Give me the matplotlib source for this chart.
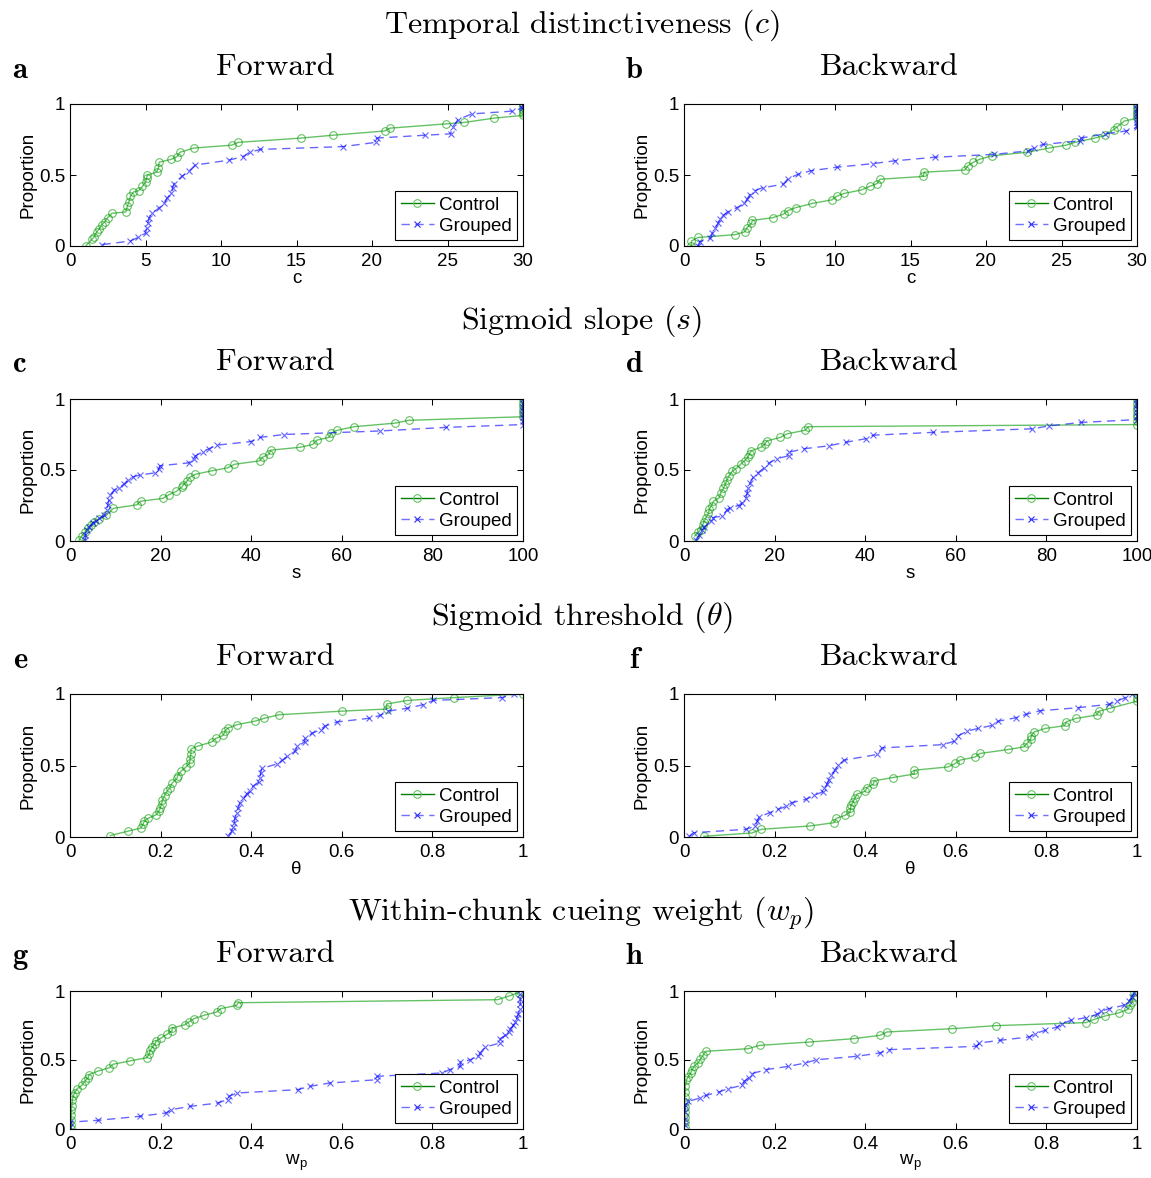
import numpy as np
import matplotlib
matplotlib.use("Agg")
import matplotlib.pyplot as plt
from matplotlib.lines import Line2D

plt.rcParams['font.family'] = ['Liberation Sans', 'DejaVu Sans']
plt.rcParams['mathtext.fontset'] = 'cm'
plt.rcParams['axes.formatter.use_mathtext'] = True

# --- data (sorted parameter values vs proportion) ---
# a: temporal distinctiveness, forward
a_ctrl_x = [1.04, 1.48, 1.6, 1.77, 1.93, 2.1, 2.3, 2.5, 2.77, 3.7, 3.8, 3.9, 4.0, 4.2, 4.55, 4.8, 5.0,
            5.07, 5.13, 5.73, 5.86, 5.9, 6.7, 7.1, 7.28, 8.2, 10.7, 11.15, 15.3, 17.4, 20.85, 21.2,
            24.9, 26.1, 28.05, 30, 30, 30, 30, 30]
a_ctrl_y = [0.0, 0.05, 0.065, 0.1, 0.12, 0.15, 0.17, 0.2, 0.23, 0.24, 0.28, 0.31, 0.35, 0.38, 0.39,
            0.42, 0.45, 0.48, 0.5, 0.52, 0.55, 0.59, 0.61, 0.63, 0.66, 0.69, 0.71, 0.73, 0.76, 0.78,
            0.81, 0.83, 0.86, 0.87, 0.9, 0.92, 0.94, 0.96, 0.98, 1.0]
a_grp_x = [2.15, 4.0, 4.5, 5.0, 5.07, 5.15, 5.25, 5.4, 5.87, 6.25, 6.4, 6.7, 6.8, 6.9, 7.4, 7.9, 8.3,
           10.55, 11.45, 11.9, 12.6, 18.1, 20.25, 20.3, 23.5, 25.2, 25.35, 25.7, 26.6, 29.3, 29.95, 30]
a_grp_y = [0.01, 0.035, 0.06, 0.09, 0.125, 0.16, 0.2, 0.23, 0.265, 0.3, 0.335, 0.37, 0.41, 0.44,
           0.49, 0.53, 0.57, 0.605, 0.63, 0.66, 0.68, 0.70, 0.73, 0.76, 0.78, 0.79, 0.84, 0.89,
           0.93, 0.95, 0.97, 1.0]

# b: temporal distinctiveness, backward
b_ctrl_x = [0.49, 0.49, 0.93, 3.4, 4.02, 4.18, 4.47, 4.53, 5.9, 6.6, 6.9, 7.4, 8.5, 9.8, 10.1, 10.6,
            11.76, 12.3, 12.8, 12.98, 15.85, 15.9, 18.6, 18.8, 19.17, 19.56, 20.4, 22.7, 24.2, 25.3,
            25.9, 27.2, 27.9, 28.45, 28.7, 29.16, 30, 30, 30, 30, 30, 30]
b_ctrl_y = [0.0, 0.035, 0.06, 0.08, 0.1, 0.13, 0.16, 0.18, 0.2, 0.225, 0.25, 0.27, 0.3, 0.325, 0.35,
            0.37, 0.395, 0.42, 0.44, 0.47, 0.49, 0.52, 0.535, 0.565, 0.59, 0.61, 0.635, 0.66, 0.69,
            0.71, 0.73, 0.76, 0.78, 0.82, 0.84, 0.88, 0.9, 0.92, 0.94, 0.96, 0.98, 1.0]
b_grp_x = [0.93, 1.04, 1.75, 1.88, 2.04, 2.26, 2.4, 2.6, 2.9, 3.5, 4.0, 4.18, 4.35, 4.7, 5.2, 6.57,
           6.9, 7.56, 8.4, 10.15, 12.5, 13.97, 16.6, 20.5, 22.8, 23.2, 23.75, 26.2, 26.3, 27.9, 29.3,
           30, 30, 30, 30, 30, 30, 30, 30, 30]
b_grp_y = [0.0, 0.03, 0.055, 0.09, 0.125, 0.16, 0.19, 0.215, 0.24, 0.27, 0.3, 0.33, 0.36, 0.39, 0.41,
           0.435, 0.475, 0.505, 0.53, 0.555, 0.58, 0.6, 0.625, 0.645, 0.67, 0.69, 0.715, 0.74, 0.76,
           0.79, 0.81, 0.835, 0.855, 0.875, 0.895, 0.915, 0.935, 0.955, 0.975, 1.0]

# c: sigmoid slope, forward
c_ctrl_x = [2.0, 2.6, 3.35, 3.87, 4.6, 5.2, 6.5, 8.0, 9.6, 14.8, 15.6, 20.5, 21.8, 23.5, 24.7, 25.0,
            25.9, 26.5, 27.7, 31.4, 34.8, 36.3, 41.9, 42.5, 43.9, 44.3, 50.8, 53.6, 54.5, 57.2, 57.7,
            59.0, 62.7, 71.8, 74.8, 100, 100, 100, 100, 100, 100]
c_ctrl_y = [0.005, 0.035, 0.065, 0.09, 0.11, 0.135, 0.155, 0.18, 0.23, 0.255, 0.28, 0.3, 0.325, 0.35,
            0.38, 0.395, 0.425, 0.45, 0.47, 0.495, 0.515, 0.54, 0.565, 0.59, 0.61, 0.64, 0.66, 0.68,
            0.71, 0.73, 0.76, 0.78, 0.805, 0.83, 0.85, 0.875, 0.9, 0.925, 0.95, 0.975, 1.0]
c_grp_x = [3.35, 3.35, 3.65, 4.25, 5.0, 5.7, 6.5, 7.6, 8.1, 8.35, 8.6, 8.9, 9.8, 10.8, 11.9, 12.8,
           13.8, 15.4, 18.8, 19.7, 19.8, 26.2, 27.3, 27.7, 29.4, 30.7, 32.4, 39.9, 42.0, 47.3, 68.5,
           83.0, 100, 100, 100, 100, 100, 100, 100, 100]
c_grp_y = [0.005, 0.04, 0.075, 0.1, 0.125, 0.14, 0.16, 0.18, 0.22, 0.255, 0.29, 0.325, 0.36, 0.375,
           0.4, 0.43, 0.45, 0.465, 0.48, 0.51, 0.53, 0.55, 0.58, 0.6, 0.63, 0.65, 0.675, 0.7, 0.73,
           0.75, 0.775, 0.8, 0.82, 0.845, 0.87, 0.895, 0.92, 0.945, 0.97, 1.0]

# d: sigmoid slope, backward
d_ctrl_x = [2.4, 3.1, 3.65, 4.1, 4.4, 4.85, 5.4, 5.6, 6.1, 6.5, 7.8, 8.1, 8.7, 9.1, 9.5, 9.85, 10.6,
            11.5, 12.5, 13.4, 14.1, 14.5, 14.85, 17.0, 17.8, 18.3, 21.3, 22.8, 26.8, 27.4, 100, 100,
            100, 100, 100, 100, 100, 100]
d_ctrl_y = [0.035, 0.06, 0.08, 0.11, 0.135, 0.165, 0.195, 0.225, 0.25, 0.28, 0.305, 0.34, 0.37, 0.4,
            0.43, 0.455, 0.49, 0.51, 0.54, 0.565, 0.59, 0.615, 0.635, 0.66, 0.68, 0.705, 0.73, 0.755,
            0.78, 0.805, 0.82, 0.845, 0.87, 0.895, 0.92, 0.945, 0.97, 1.0]
d_grp_x = [2.6, 3.35, 4.0, 4.5, 5.9, 6.3, 8.4, 9.5, 10.1, 12.1, 12.8, 13.6, 13.95, 14.1, 14.55, 15.3,
           16.3, 17.7, 18.8, 20.5, 23.1, 23.1, 26.6, 31.9, 35.7, 40.1, 41.8, 55.0, 76.8, 80.5, 87.6,
           100, 100, 100, 100, 100, 100, 100]
d_grp_y = [0.005, 0.04, 0.075, 0.1, 0.14, 0.165, 0.175, 0.22, 0.235, 0.25, 0.27, 0.3, 0.335, 0.37,
           0.405, 0.45, 0.48, 0.515, 0.55, 0.58, 0.6, 0.625, 0.65, 0.67, 0.695, 0.72, 0.745, 0.765,
           0.79, 0.81, 0.835, 0.855, 0.88, 0.905, 0.93, 0.955, 0.975, 1.0]

# e: sigmoid threshold, forward
e_ctrl_x = [0.089, 0.127, 0.157, 0.161, 0.164, 0.172, 0.19, 0.196, 0.199, 0.202, 0.204, 0.209, 0.214,
            0.221, 0.225, 0.236, 0.238, 0.245, 0.256, 0.264, 0.265, 0.267, 0.267, 0.282, 0.313, 0.322,
            0.338, 0.342, 0.348, 0.368, 0.408, 0.429, 0.461, 0.6, 0.699, 0.699, 0.745, 0.848, 1.0]
e_ctrl_y = [0.01, 0.04, 0.063, 0.09, 0.11, 0.13, 0.155, 0.18, 0.2, 0.23, 0.26, 0.29, 0.32, 0.345,
            0.375, 0.41, 0.43, 0.46, 0.49, 0.515, 0.545, 0.58, 0.615, 0.635, 0.665, 0.69, 0.71, 0.74,
            0.76, 0.785, 0.81, 0.83, 0.855, 0.88, 0.895, 0.93, 0.955, 0.975, 1.0]
e_grp_x = [0.349, 0.357, 0.36, 0.363, 0.364, 0.368, 0.371, 0.375, 0.382, 0.39, 0.397, 0.404, 0.417,
           0.419, 0.421, 0.424, 0.456, 0.468, 0.48, 0.497, 0.502, 0.518, 0.519, 0.534, 0.553, 0.562,
           0.59, 0.66, 0.685, 0.701, 0.745, 0.779, 0.802, 0.954, 0.981]
e_grp_y = [0.01, 0.04, 0.07, 0.1, 0.13, 0.17, 0.2, 0.24, 0.27, 0.3, 0.325, 0.355, 0.385, 0.41, 0.45,
           0.48, 0.51, 0.535, 0.565, 0.6, 0.635, 0.665, 0.69, 0.725, 0.75, 0.775, 0.805, 0.83, 0.85,
           0.88, 0.9, 0.925, 0.955, 0.975, 1.0]

# f: sigmoid threshold, backward
f_ctrl_x = [0.044, 0.15, 0.171, 0.278, 0.331, 0.336, 0.356, 0.367, 0.367, 0.369, 0.373, 0.377, 0.382,
            0.4, 0.404, 0.418, 0.42, 0.461, 0.508, 0.508, 0.583, 0.599, 0.609, 0.643, 0.653, 0.716,
            0.75, 0.757, 0.765, 0.767, 0.773, 0.797, 0.84, 0.844, 0.865, 0.911, 0.916, 0.941, 1.0,
            1.0, 1.0]
f_ctrl_y = [0.005, 0.028, 0.054, 0.077, 0.1, 0.13, 0.152, 0.175, 0.2, 0.222, 0.245, 0.27, 0.3, 0.32,
            0.346, 0.37, 0.393, 0.416, 0.44, 0.467, 0.49, 0.514, 0.537, 0.56, 0.584, 0.612, 0.63,
            0.654, 0.682, 0.708, 0.734, 0.759, 0.778, 0.806, 0.829, 0.853, 0.88, 0.9, 0.95, 0.975, 1.0]
f_grp_x = [0.012, 0.021, 0.137, 0.157, 0.162, 0.166, 0.189, 0.208, 0.226, 0.238, 0.27, 0.287, 0.306,
           0.31, 0.316, 0.319, 0.324, 0.333, 0.341, 0.353, 0.426, 0.437, 0.572, 0.597, 0.605, 0.625,
           0.65, 0.68, 0.694, 0.733, 0.754, 0.786, 0.87, 0.938, 0.956, 0.974, 0.989]
f_grp_y = [0.005, 0.03, 0.054, 0.077, 0.112, 0.14, 0.17, 0.194, 0.215, 0.24, 0.264, 0.292, 0.315,
           0.343, 0.37, 0.397, 0.432, 0.467, 0.502, 0.537, 0.577, 0.623, 0.646, 0.67, 0.707, 0.74,
           0.76, 0.78, 0.81, 0.834, 0.857, 0.883, 0.904, 0.928, 0.951, 0.974, 1.0]

# g: within-chunk cueing weight, forward
g_ctrl_x = [0.003, 0.003, 0.003, 0.003, 0.003, 0.004, 0.005, 0.007, 0.01, 0.016, 0.026, 0.033, 0.04,
            0.042, 0.062, 0.087, 0.095, 0.132, 0.17, 0.175, 0.177, 0.182, 0.188, 0.19, 0.201, 0.214,
            0.225, 0.226, 0.254, 0.262, 0.274, 0.296, 0.324, 0.333, 0.368, 0.371, 0.944, 0.969,
            0.991, 0.994]
g_ctrl_y = [0.0, 0.027, 0.063, 0.1, 0.135, 0.17, 0.208, 0.237, 0.263, 0.292, 0.316, 0.348, 0.37,
            0.394, 0.42, 0.444, 0.469, 0.493, 0.517, 0.546, 0.57, 0.594, 0.618, 0.638, 0.659, 0.686,
            0.71, 0.732, 0.756, 0.775, 0.8, 0.824, 0.848, 0.872, 0.896, 0.915, 0.937, 0.964, 0.988, 1.0]
g_grp_x = [0.001, 0.001, 0.062, 0.154, 0.212, 0.223, 0.265, 0.326, 0.348, 0.351, 0.369, 0.503, 0.529,
           0.573, 0.677, 0.678, 0.822, 0.838, 0.862, 0.862, 0.884, 0.9, 0.905, 0.917, 0.949, 0.95,
           0.961, 0.969, 0.972, 0.979, 0.983, 0.987, 0.99, 0.993, 0.994, 0.994, 0.994]
g_grp_y = [0.014, 0.05, 0.063, 0.092, 0.116, 0.14, 0.164, 0.188, 0.213, 0.237, 0.261, 0.285, 0.309,
           0.333, 0.357, 0.382, 0.406, 0.43, 0.454, 0.486, 0.502, 0.527, 0.551, 0.594, 0.623, 0.655,
           0.679, 0.703, 0.727, 0.751, 0.775, 0.807, 0.836, 0.872, 0.908, 0.944, 0.981]

# h: within-chunk cueing weight, backward
h_ctrl_x = [0.0015, 0.0015, 0.0015, 0.0015, 0.0015, 0.0015, 0.002, 0.003, 0.003, 0.005, 0.009, 0.015,
            0.018, 0.022, 0.031, 0.036, 0.042, 0.048, 0.142, 0.167, 0.276, 0.376, 0.433, 0.448, 0.592,
            0.689, 0.887, 0.906, 0.93, 0.961, 0.98, 0.984, 0.989, 0.993, 0.994]
h_ctrl_y = [0.014, 0.05, 0.087, 0.123, 0.159, 0.196, 0.232, 0.268, 0.309, 0.353, 0.377, 0.406, 0.43,
            0.454, 0.478, 0.505, 0.534, 0.563, 0.582, 0.606, 0.63, 0.655, 0.679, 0.703, 0.727, 0.749,
            0.771, 0.795, 0.819, 0.843, 0.867, 0.896, 0.92, 0.957, 0.993]
h_grp_x = [0.0015, 0.0015, 0.003, 0.003, 0.009, 0.036, 0.049, 0.077, 0.097, 0.128, 0.133, 0.143,
           0.15, 0.181, 0.23, 0.268, 0.292, 0.382, 0.432, 0.453, 0.645, 0.652, 0.698, 0.762, 0.775,
           0.797, 0.824, 0.834, 0.854, 0.887, 0.912, 0.92, 0.938, 0.971, 0.982, 0.989, 0.993]
h_grp_y = [0.027, 0.075, 0.123, 0.171, 0.2, 0.225, 0.244, 0.268, 0.292, 0.316, 0.345, 0.372, 0.401,
           0.43, 0.454, 0.478, 0.502, 0.527, 0.551, 0.575, 0.599, 0.623, 0.643, 0.667, 0.691, 0.715,
           0.739, 0.763, 0.787, 0.807, 0.831, 0.853, 0.872, 0.896, 0.925, 0.957, 0.986]

section_titles = ["Temporal distinctiveness ($c$)", "Sigmoid slope ($s$)",
                  "Sigmoid threshold ($\\theta$)", "Within-chunk cueing weight ($w_p$)"]
panel_letters = ["a", "b", "c", "d", "e", "f", "g", "h"]
xlabels = ["c", "s", "\u03b8", "w$_\\mathregular{p}$"]
xlims = [30, 100, 1, 1]
xticks = [[0, 5, 10, 15, 20, 25, 30], [0, 20, 40, 60, 80, 100],
          [0, 0.2, 0.4, 0.6, 0.8, 1], [0, 0.2, 0.4, 0.6, 0.8, 1]]
xticklabels = [["0", "5", "10", "15", "20", "25", "30"], ["0", "20", "40", "60", "80", "100"],
               ["0", "0.2", "0.4", "0.6", "0.8", "1"], ["0", "0.2", "0.4", "0.6", "0.8", "1"]]

panels = [(a_ctrl_x, a_ctrl_y, a_grp_x, a_grp_y), (b_ctrl_x, b_ctrl_y, b_grp_x, b_grp_y),
          (c_ctrl_x, c_ctrl_y, c_grp_x, c_grp_y), (d_ctrl_x, d_ctrl_y, d_grp_x, d_grp_y),
          (e_ctrl_x, e_ctrl_y, e_grp_x, e_grp_y), (f_ctrl_x, f_ctrl_y, f_grp_x, f_grp_y),
          (g_ctrl_x, g_ctrl_y, g_grp_x, g_grp_y), (h_ctrl_x, h_ctrl_y, h_grp_x, h_grp_y)]

W, H = 1151, 1178
fig = plt.figure(figsize=(W / 100, H / 100), dpi=100)

col_left = [70, 684]
ax_w = 453
row_top = [104, 399, 694, 991]
row_h = [142, 142, 143, 138]
sec_y = [25, 321, 617, 913]

green = '#009900'
blue = '#0000ff'
tick_fs = 13.5
title_fs = 23

for k, (xc, yc, xg, yg) in enumerate(panels):
    r, c = divmod(k, 2)
    left, top, h = col_left[c], row_top[r], row_h[r]
    ax = fig.add_axes([left / W, 1 - (top + h) / H, ax_w / W, h / H])
    ax.plot(xc, yc, '-', color=green, alpha=0.6, lw=1.0,
            marker='o', ms=5.5, mfc='none', mew=0.8)
    ax.plot(xg, yg, '--', color=blue, alpha=0.6, lw=1.0, dashes=(6, 4),
            marker='x', ms=4, mew=0.8)
    ax.set_xlim(0, xlims[r])
    ax.set_ylim(0, 1)
    ax.set_xticks(xticks[r])
    ax.set_xticklabels(xticklabels[r], fontsize=tick_fs)
    ax.set_yticks([0, 0.5, 1])
    ax.set_yticklabels(["0", "0.5", "1"], fontsize=tick_fs)
    ax.tick_params(direction='in', top=True, right=True, length=4, width=0.75)
    ax.tick_params(axis='x', pad=5)
    ax.tick_params(axis='y', pad=3.5)
    ax.set_xlabel(xlabels[r], fontsize=tick_fs, labelpad=0)
    ax.set_ylabel("Proportion", fontsize=tick_fs, labelpad=2)
    for s in ax.spines.values():
        s.set_linewidth(0.8)

    handles = [Line2D([], [], color='#008000', lw=1.0, marker='o', ms=5.5,
                      mfc='none', mec='#66c266', mew=0.8),
               Line2D([], [], color='#7070ff', lw=1.0, ls=(0, (6, 4)), marker='x', ms=4,
                      mec='#3030ff', mew=0.8)]
    leg = ax.legend(handles, ["Control", "Grouped"], loc='lower right', fontsize=tick_fs,
                    frameon=True, fancybox=False, framealpha=1, edgecolor='black',
                    borderpad=0.3, labelspacing=0.2, handlelength=1.8, handletextpad=0.25,
                    borderaxespad=0.3)
    leg.get_frame().set_linewidth(0.8)

    title = "Forward" if c == 0 else "Backward"
    fig.text((left + ax_w / 2 - 21) / W, 1 - (top - 37) / H, title, ha='center', va='center',
             fontsize=title_fs, family='cmr10')
    fig.text((left - 50) / W, 1 - (top - 34) / H, panel_letters[k], ha='center', va='center',
             fontsize=title_fs - 1, family='cmb10')

for r in range(4):
    fig.text(0.505, 1 - sec_y[r] / H, section_titles[r], ha='center', va='center',
             fontsize=title_fs, family='cmr10')

fig.savefig("out.png", dpi=100)
